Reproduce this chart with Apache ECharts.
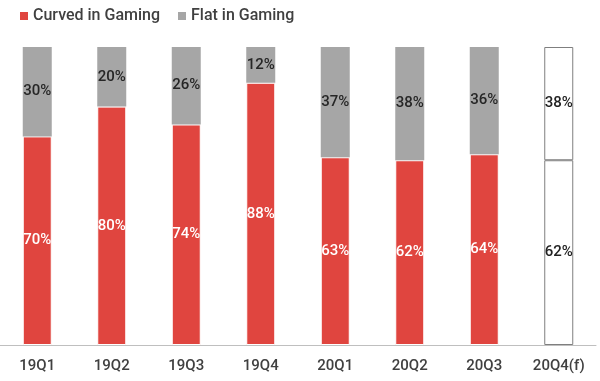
<!DOCTYPE html>
<html><head><meta charset="utf-8">
<script src="https://cdn.jsdelivr.net/npm/echarts@6/dist/echarts.min.js"></script>
<style>html,body{margin:0;padding:0;background:#fff}#c{width:600px;height:381px}</style>
</head><body><div id="c"></div>
<script>
const categories = ['19Q1','19Q2','19Q3','19Q4','20Q1','20Q2','20Q3','20Q4(f)'];
const curved = [70, 80, 74, 88, 63, 62, 64, 62];
const flat = [30, 20, 26, 12, 37, 38, 36, 38];
const forecastIndex = 7;

const RED = '#E0453F', GRAY = '#A6A6A6';
function build(vals, color, labelColor, isTop) {
  return vals.map((v, i) => {
    if (i === forecastIndex) {
      return {value: v, itemStyle: {color: '#fff', borderColor: '#7f7f7f', borderWidth: 1},
        label: {color: '#222'}};
    }
    return {value: v, itemStyle: {color: color, borderColor: '#fff', borderWidth: isTop ? 0 : 1},
      label: {color: labelColor}};
  });
}
const chart = echarts.init(document.getElementById('c'));
chart.setOption({
  animation: false,
  legend: {
    left: 15, top: 3, itemWidth: 8, itemHeight: 8, itemGap: 18, icon: 'rect',
    textStyle: {fontFamily: 'Roboto', fontSize: 16, color: '#404040', fontWeight: 500},
    data: [{name: 'Curved in Gaming', itemStyle: {color: RED, borderWidth: 0}},
           {name: 'Flat in Gaming', itemStyle: {color: GRAY, borderWidth: 0}}]
  },
  grid: {left: 0, right: 4, top: 47, bottom: 36},
  xAxis: {
    type: 'category', data: categories,
    axisLine: {lineStyle: {color: '#bfbfbf'}},
    axisTick: {show: false},
    axisLabel: {fontFamily: 'Roboto', fontSize: 15, fontWeight: 500, color: '#404040', margin: 14}
  },
  yAxis: {type: 'value', min: 0, max: 100, show: false, splitLine: {show: false}},
  series: [
    {name: 'Curved in Gaming', type: 'bar', stack: 's', barWidth: 29,
     data: build(curved, RED, '#fff', false),
     label: {show: true, position: 'inside', formatter: '{c}%', fontFamily: 'Roboto', fontSize: 15, fontWeight: 500}},
    {name: 'Flat in Gaming', type: 'bar', stack: 's', barWidth: 29,
     data: build(flat, GRAY, '#262626', true),
     label: {show: true, position: 'inside', formatter: '{c}%', fontFamily: 'Roboto', fontSize: 15, fontWeight: 500}}
  ]
});
</script></body></html>
